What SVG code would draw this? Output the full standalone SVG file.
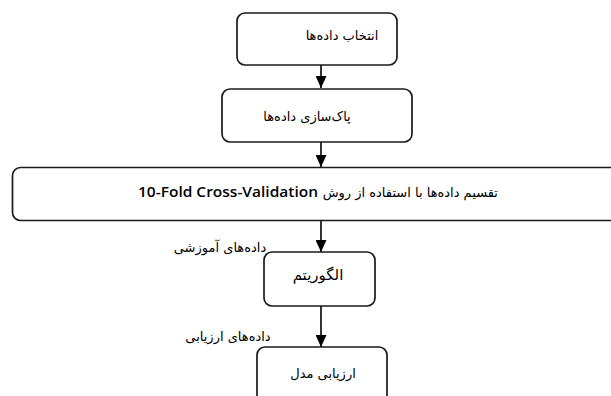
<svg xmlns="http://www.w3.org/2000/svg" width="611" height="396" viewBox="0 0 611 396">
<defs>
<style>
.box{fill:#fff;stroke:#1a1a1a;stroke-width:1.7}
.fa{font-family:"DejaVu Sans",sans-serif;font-size:13px;fill:#000}
.en{font-family:"Open Sans","Liberation Sans",sans-serif;font-weight:600;font-size:15px;fill:#000}
.ln{stroke:#000;stroke-width:1.6;fill:none}
</style>
<marker id="ah" viewBox="0 0 12 11" refX="12" refY="5.5" markerWidth="12" markerHeight="11" markerUnits="userSpaceOnUse" orient="auto">
<path d="M0,0 L12,5.5 L0,11 Z" fill="#000"/>
</marker>
</defs>
<rect width="611" height="396" fill="#fff"/>
<g id="connectors">
<line class="ln" x1="321" y1="65" x2="321" y2="88" marker-end="url(#ah)"/>
<line class="ln" x1="321" y1="142" x2="321" y2="167" marker-end="url(#ah)"/>
<line class="ln" x1="321" y1="221" x2="321" y2="252" marker-end="url(#ah)"/>
<line class="ln" x1="321" y1="306" x2="321" y2="347" marker-end="url(#ah)"/>
<text class="fa" x="220" y="252" text-anchor="middle">داده‌های آموزشی</text>
<text class="fa" x="228" y="341" text-anchor="middle">داده‌های ارزیابی</text>
</g>
<g id="n1">
<rect class="box" x="237" y="13" width="160" height="52" rx="8"/>
<text class="fa" x="342" y="40" text-anchor="middle">انتخاب داده‌ها</text>
</g>
<g id="n2">
<rect class="box" x="222" y="89" width="190" height="53" rx="8"/>
<text class="fa" x="307" y="121" text-anchor="middle">پاک‌سازی داده‌ها</text>
</g>
<g id="n3">
<rect class="box" x="12.5" y="167.5" width="620" height="53" rx="8"/>
<text class="en" x="138" y="197" textLength="180" lengthAdjust="spacingAndGlyphs">10-Fold Cross-Validation</text>
<text class="fa" x="498" y="197" text-anchor="end">تقسیم داده‌ها با استفاده از روش</text>
</g>
<g id="n4">
<rect class="box" x="264" y="252" width="111" height="54" rx="8"/>
<text class="fa" x="318" y="280" text-anchor="middle" style="font-size:15px">الگوریتم</text>
</g>
<g id="n5">
<rect class="box" x="257" y="347" width="130" height="70" rx="8"/>
<text class="fa" x="323" y="378" text-anchor="middle">ارزیابی مدل</text>
</g>
</svg>
